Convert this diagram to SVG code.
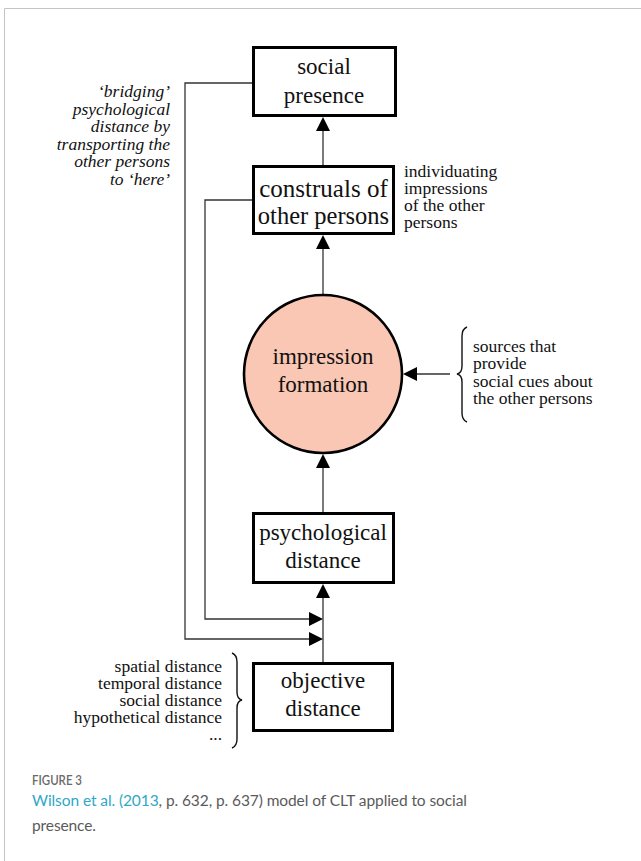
<svg xmlns="http://www.w3.org/2000/svg" width="641" height="861" viewBox="0 0 641 861">
<defs>
<style>
.box{fill:#fff;stroke:#000;stroke-width:3}
.node{font-family:"Liberation Serif","Times New Roman",serif;font-size:23px;fill:#111;text-anchor:middle}
.note{font-family:"Liberation Serif","Times New Roman",serif;font-size:17.5px;fill:#111}
.it{font-style:italic;text-anchor:end}
.conn{fill:none;stroke:#333;stroke-width:1.3}
.head{fill:#000;stroke:none}
.brace{fill:none;stroke:#111;stroke-width:1.4}
.cap{font-family:Lato,"Open Sans",sans-serif;fill:#5a5a5a}
</style>
</defs>
<rect x="0" y="0" width="641" height="861" fill="#fff"/>
<path d="M4.5,861 V8.5 H641" fill="none" stroke="#c4c4c4" stroke-width="1"/>

<g id="connectors">
<line class="conn" x1="323" y1="165" x2="323" y2="130"/>
<polygon class="head" points="323,117 316,131 330,131"/>
<line class="conn" x1="323" y1="294" x2="323" y2="248"/>
<polygon class="head" points="323,235 316,249 330,249"/>
<line class="conn" x1="323" y1="512" x2="323" y2="467"/>
<polygon class="head" points="323,454 316,468 330,468"/>
<line class="conn" x1="323" y1="662" x2="323" y2="597"/>
<polygon class="head" points="323,584 316,598 330,598"/>
<line class="conn" x1="450" y1="374" x2="416" y2="374"/>
<polygon class="head" points="403,374 417,367 417,381"/>
<polyline class="conn" points="252,83 185,83 185,639 310,639"/>
<polygon class="head" points="323,639 309,632 309,646"/>
<polyline class="conn" points="252,200 205,200 205,619 310,619"/>
<polygon class="head" points="323,619 309,612 309,626"/>
</g>

<g id="social-presence">
<rect class="box" x="253.5" y="47.5" width="142" height="68"/>
<text class="node" x="324" y="74">social</text>
<text class="node" x="324" y="103">presence</text>
</g>

<g id="construals">
<rect class="box" x="253.5" y="166.5" width="140" height="67"/>
<text class="node" x="323.5" y="197" style="font-size:25px">construals of</text>
<text class="node" x="323.5" y="224" style="font-size:24.5px">other persons</text>
</g>

<g id="impression-formation">
<circle cx="323" cy="374" r="79" fill="#F9C7B3" stroke="#000" stroke-width="2.6"/>
<text class="node" x="323" y="364">impression</text>
<text class="node" x="323" y="392">formation</text>
</g>

<g id="psychological-distance">
<rect class="box" x="253.5" y="513.5" width="140" height="69"/>
<text class="node" x="323" y="540">psychological</text>
<text class="node" x="323" y="568">distance</text>
</g>

<g id="objective-distance">
<rect class="box" x="253.5" y="663.5" width="139" height="67"/>
<text class="node" x="323" y="688">objective</text>
<text class="node" x="323" y="716">distance</text>
</g>

<g id="bridging-note">
<text class="note it" x="170" y="97">‘bridging’</text>
<text class="note it" x="170" y="114.5">psychological</text>
<text class="note it" x="170" y="132">distance by</text>
<text class="note it" x="170" y="149.5">transporting the</text>
<text class="note it" x="170" y="167">other persons</text>
<text class="note it" x="170" y="184.5">to ‘here’</text>
</g>

<g id="individuating-note">
<text class="note" x="404" y="177">individuating</text>
<text class="note" x="404" y="194">impressions</text>
<text class="note" x="404" y="211">of the other</text>
<text class="note" x="404" y="228">persons</text>
</g>

<g id="sources-note">
<path class="brace" d="M467,327 Q462,329 462,336 L462,366 Q462,373 457,374 Q462,375 462,382 L462,413 Q462,420 467,422"/>
<text class="note" x="473" y="352">sources that</text>
<text class="note" x="473" y="369">provide</text>
<text class="note" x="473" y="387">social cues about</text>
<text class="note" x="473" y="404">the other persons</text>
</g>

<g id="distances-note">
<path class="brace" d="M232,653 Q237,655 237,662 L237,692 Q237,699 242,700 Q237,701 237,708 L237,739 Q237,746 232,748"/>
<text class="note" x="222" y="672" text-anchor="end">spatial distance</text>
<text class="note" x="222" y="689" text-anchor="end">temporal distance</text>
<text class="note" x="222" y="706" text-anchor="end">social distance</text>
<text class="note" x="222" y="723" text-anchor="end">hypothetical distance</text>
<text class="note" x="222" y="740" text-anchor="end">...</text>
</g>

<g id="caption">
<text class="cap" x="32" y="785" style="font-size:12.5px;fill:#6a6a6a;font-weight:600" textLength="50" lengthAdjust="spacingAndGlyphs">FIGURE 3</text>
<text class="cap" x="32" y="806" style="font-size:15.5px" textLength="435" lengthAdjust="spacing"><tspan fill="#2FA7C8">Wilson et al. (2013</tspan>, p. 632, p. 637) model of CLT applied to social</text>
<text class="cap" x="32" y="831" style="font-size:15.5px" textLength="64" lengthAdjust="spacing">presence.</text>
</g>
</svg>
